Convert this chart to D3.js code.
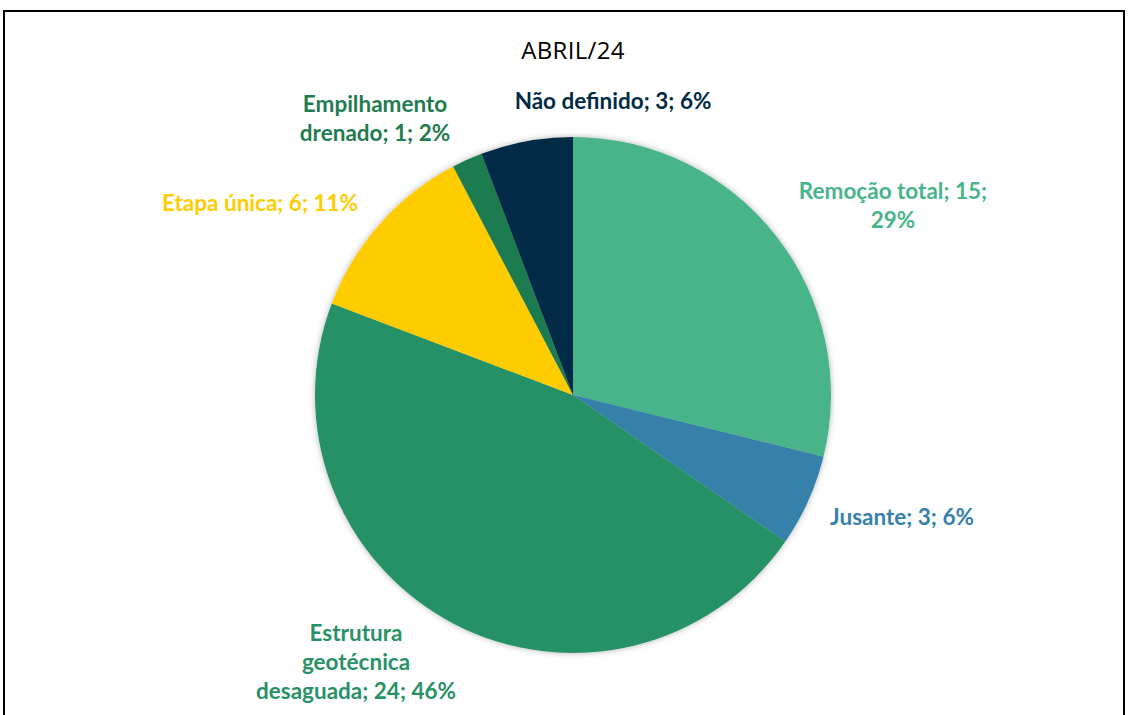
<!DOCTYPE html>
<html>
<head>
<meta charset="utf-8">
<script src="https://cdn.jsdelivr.net/npm/d3@7"></script>
<style>
  body { margin: 0; background: #fff; }
  svg { display: block; }
</style>
</head>
<body>
<div id="chart"></div>
<script>
// data
const categories = ["Remoção total", "Jusante", "Estrutura geotécnica desaguada", "Etapa única", "Empilhamento drenado", "Não definido"];
const values = [15, 3, 24, 6, 1, 3];
const percents = ["29%", "6%", "46%", "11%", "2%", "6%"];
const colors = ["#48B489", "#3581A9", "#289166", "#FFCC00", "#1F7B50", "#002B45"];

// label lines + where each label sits relative to the pie centre
const labelLines = [
  ["Remoção total; 15;", "29%"],
  ["Jusante; 3; 6%"],
  ["Estrutura", "geotécnica", "desaguada; 24; 46%"],
  ["Etapa única; 6; 11%"],
  ["Empilhamento", "drenado; 1; 2%"],
  ["Não definido; 3; 6%"]
];
const labelOffset = [[320, -190], [329, 122], [-217, 267], [-313, -192], [-198, -277], [40, -294]];

const W = 1129, H = 715;
const CX = 573, CY = 395, R = 258;

const svg = d3.select("#chart").append("svg")
  .attr("width", W)
  .attr("height", H);

const defs = svg.append("defs");
defs.append("filter")
    .attr("id", "shadow")
    .attr("x", "-10%").attr("y", "-10%")
    .attr("width", "120%").attr("height", "120%")
  .append("feDropShadow")
    .attr("dx", 0).attr("dy", 0)
    .attr("stdDeviation", 3)
    .attr("flood-color", "#000")
    .attr("flood-opacity", 0.3);

// outer frame
svg.append("path")
  .attr("d", `M4,715 L4,11 L1124,11 L1124,715`)
  .attr("fill", "none")
  .attr("stroke", "#000")
  .attr("stroke-width", 2);

svg.append("text")
  .attr("x", CX)
  .attr("y", 59)
  .attr("text-anchor", "middle")
  .style("font", "24px 'Open Sans', sans-serif")
  .style("letter-spacing", "0.3px")
  .style("fill", "#000")
  .text("ABRIL/24");

const pie = d3.pie().sort(null).value(d => d);
const arc = d3.arc().innerRadius(0).outerRadius(R);

const g = svg.append("g")
  .attr("transform", `translate(${CX}, ${CY})`);

g.append("g")
  .attr("filter", "url(#shadow)")
  .selectAll("path")
  .data(pie(values))
  .enter().append("path")
    .attr("d", arc)
    .attr("fill", (d, i) => colors[i]);

const labels = g.selectAll("text.lbl")
  .data(labelLines)
  .enter().append("text")
    .attr("class", "lbl")
    .attr("text-anchor", "middle")
    .attr("transform", (d, i) => `translate(${labelOffset[i][0]}, ${labelOffset[i][1]})`)
    .style("font", "bold 22.5px Lato, sans-serif")
    .style("fill", (d, i) => colors[i]);

labels.each(function (lines) {
  const t = d3.select(this);
  const lh = 29;
  const y0 = -((lines.length - 1) * lh) / 2 + 8;
  lines.forEach((s, k) => {
    t.append("tspan")
      .attr("x", 0)
      .attr("y", y0 + k * lh)
      .text(s);
  });
});
</script>
</body>
</html>
